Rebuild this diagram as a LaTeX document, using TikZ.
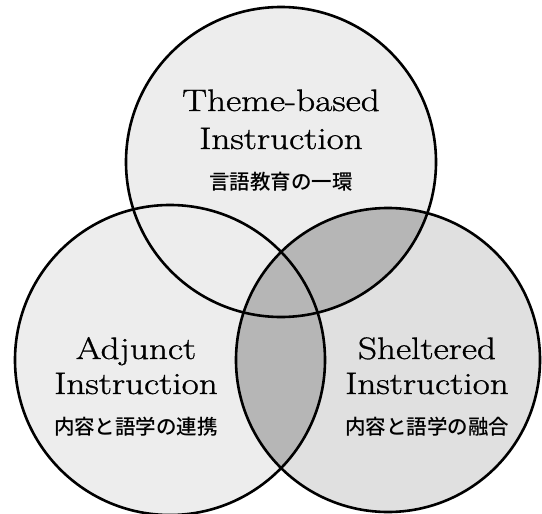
\documentclass[tikz,border=0pt]{standalone}
\usepackage{fontspec}
\newfontfamily\jp{Noto Sans CJK JP}[UprightFont=* Medium]
\newfontfamily\cent{Latin Modern Roman}[FakeStretch=1.2, FakeBold=1]
\definecolor{lightfill}{HTML}{EDEDED}
\definecolor{rightfill}{HTML}{E0E0E0}
\definecolor{darkfill}{HTML}{B6B6B6}
\begin{document}
\begin{tikzpicture}[x=1pt,y=-1pt,
  lat/.style={font=\cent\fontsize{31}{36}\selectfont, inner sep=0pt, anchor=base},
  jpn/.style={font=\jp\fontsize{20.5}{24}\selectfont, inner sep=0pt, anchor=base},
  ring/.style={draw=black, line width=2.6pt}]
\useasboundingbox (0,0) rectangle (542,514);
\fill[white] (0,0) rectangle (542,514);
\coordinate (T) at (281,162);
\coordinate (L) at (170,360);
\coordinate (R) at (388,360);
\fill[lightfill] (T) circle[radius=155pt];
\fill[lightfill] (L) circle[radius=155pt];
\fill[rightfill] (R) circle[radius=152pt];
\begin{scope}
  \clip (R) circle[radius=152pt];
  \fill[darkfill] (T) circle[radius=155pt];
  \fill[darkfill] (L) circle[radius=155pt];
\end{scope}
\draw[ring] (T) circle[radius=155pt];
\draw[ring] (L) circle[radius=155pt];
\draw[ring] (R) circle[radius=152pt];
\node[lat] (tb1) at (281,111) {Theme-based};
\node[lat] (tb2) at (281,149) {Instruction};
\node[jpn] (tb3) at (281,189) {言語教育の一環};
\node[lat] (ad1) at (136,359) {Adjunct};
\node[lat] (ad2) at (136,394) {Instruction};
\node[jpn] (ad3) at (136,434) {内容と語学の連携};
\node[lat] (sh1) at (427,359) {Sheltered};
\node[lat] (sh2) at (427,394) {Instruction};
\node[jpn] (sh3) at (427,434) {内容と語学の融合};
\end{tikzpicture}
\end{document}
